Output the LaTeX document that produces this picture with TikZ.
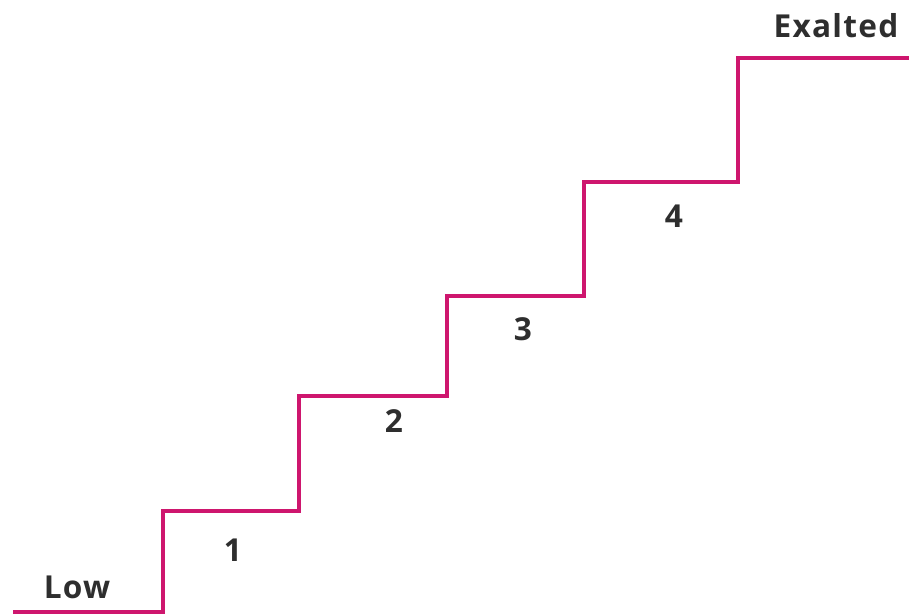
\documentclass[tikz,border=0pt]{standalone}
\usepackage{fontspec}
\setmainfont{Open Sans}
\usepackage{tikz}
\definecolor{stairpink}{RGB}{206,22,110}

\begin{document}
\begin{tikzpicture}[
    x=0.02cm, y=-0.02cm,
    stair/.style={draw=stairpink, line width=2.1pt, line join=miter},
    level/.style={font=\fontsize{18}{21}\selectfont\bfseries\addfontfeatures{LetterSpace=4}, text=black!82, anchor=base},
    stepnum/.style={font=\fontsize{18}{21}\selectfont\bfseries, text=black!82, anchor=base}
  ]
    \useasboundingbox (0,0) rectangle (909,615);

    \coordinate (s0) at (13,612);
    \coordinate (s1) at (163,612);
    \coordinate (s2) at (163,511);
    \coordinate (s3) at (299,511);
    \coordinate (s4) at (299,396);
    \coordinate (s5) at (447,396);
    \coordinate (s6) at (447,296);
    \coordinate (s7) at (584,296);
    \coordinate (s8) at (584,182);
    \coordinate (s9) at (738,182);
    \coordinate (s10) at (738,58);
    \coordinate (s11) at (909,58);
    \draw[stair] (s0) -- (s1) -- (s2) -- (s3) -- (s4) -- (s5) -- (s6)
      -- (s7) -- (s8) -- (s9) -- (s10) -- (s11);

    \node[level] (low) at (77,598) {Low};
    \node[level] (exalted) at (836,38) {Exalted};

    \node[stepnum] (n1) at (233,561) {1};
    \node[stepnum] (n2) at (394,432) {2};
    \node[stepnum] (n3) at (523,340) {3};
    \node[stepnum] (n4) at (674,227) {4};
  \end{tikzpicture}
\end{document}
